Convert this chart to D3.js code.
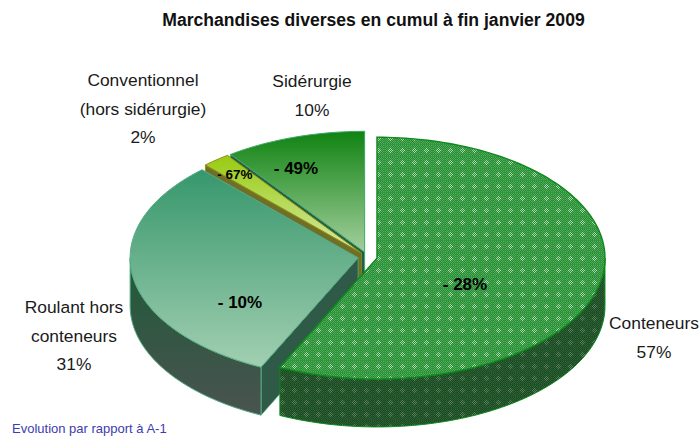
<!DOCTYPE html>
<html><head><meta charset="utf-8">
<style>html,body{margin:0;padding:0;background:#fff}svg{display:block}text{font-family:"Liberation Sans",Arial,sans-serif}</style>
<script src="https://cdn.jsdelivr.net/npm/d3@7/dist/d3.min.js"></script></head>
<body><svg id="c" width="700" height="438"></svg>
<script>
const categories = ["Conteneurs","Roulant hors conteneurs","Conventionnel (hors sidérurgie)","Sidérurgie"];
const shares = [57,31,2,10];
const evolutions = ["- 28%","- 10%","- 67%","- 49%"];
const labelLines = [["Conteneurs","57%"],["Roulant hors","conteneurs","31%"],["Conventionnel","(hors sidérurgie)","2%"],["Sidérurgie","10%"]];
const titleText = "Marchandises diverses en cumul à fin janvier 2009";
const noteText = "Evolution par rapport à A-1";

const svg = d3.select("#c");
const W=700,H=438, R=228, K=0.53, DEPTH=48, EXPLODE=9.6, BX=367.6, BY=257;
const pie = d3.pie().sort(null).value(d=>d)(shares);
const slices = pie.map((p,i)=>{
  const mid=(p.startAngle+p.endAngle)/2;
  return {...p,i,mid,cx:BX+EXPLODE*Math.sin(mid),cy:BY-EXPLODE*K*Math.cos(mid)};
});
const pt=(s,a,r=R,dz=0)=>[s.cx+r*Math.sin(a),s.cy-r*K*Math.cos(a)+dz];
const line=d3.line();
const arcPts=(s,a0,a1,dz=0)=>{const n=Math.max(2,Math.ceil(Math.abs(a1-a0)*40));return d3.range(n+1).map(j=>pt(s,a0+(a1-a0)*j/n,R,dz));};
const defs=svg.append("defs");
function grad(id,stops,y1=0,y2=1){const g=defs.append("linearGradient").attr("id",id).attr("x1",0).attr("y1",y1).attr("x2",0).attr("y2",y2);
  stops.forEach(([o,c])=>g.append("stop").attr("offset",o).attr("stop-color",c));}
grad("gRoul",[[0,"#36976c"],[1,"#a2cfb2"]]);
grad("gConv",[[0,"#98cb10"],[1,"#d6eaa8"]]);
grad("gSid",[[0,"#108312"],[1,"#a4cf9e"]]);
grad("gRoulSide",[[0,"#1f5a38"],[1,"#4a5350"]]);
function tile(id,a,b,light,band){
  const p=defs.append("pattern").attr("id",id).attr("patternUnits","userSpaceOnUse").attr("width",12).attr("height",12);
  d3.range(12).forEach(x=>d3.range(12).forEach(y=>{
    const d=Math.abs(x-6)+Math.abs(y-6), even=(x+y)%2===0;
    const fill=(x===0||y===0)?band:(even?(d<=3?light:a):b);
    p.append("rect").attr("x",x).attr("y",y).attr("width",1).attr("height",1).attr("fill",fill).attr("shape-rendering","crispEdges");
  }));
}
tile("pTop","#5aa95f","#1f8e30","#b6d6b6","#2f9a40");
tile("pSide","#33603a","#174a1e","#5f8164","#1f5526");

const style=[
 {top:"url(#pTop)",stroke:"#0d8a1c",rim:"url(#pSide)",wall:"#25512a"},
 {top:"url(#gRoul)",stroke:"#55ad85",rim:"url(#gRoulSide)",wall:"#2f5a48"},
 {top:"url(#gConv)",stroke:"#8f8f10",rim:"#7d7d10",wall:"#6f6f28"},
 {top:"url(#gSid)",stroke:"#3fa66a",rim:"#1c6a40",wall:"#1f5e48"}
];
function drawSlice(s){
  const st=style[s.i], a0=s.startAngle,a1=s.endAngle, g=svg.append("g");
  const apex=[s.cx,s.cy];
  if(s.i!==0){
    const e=pt(s,a0);
    g.append("path").attr("d",line([apex,e,[e[0],e[1]+DEPTH],[apex[0],apex[1]+DEPTH]])+"Z")
      .attr("fill",st.wall).attr("stroke",st.stroke).attr("stroke-width",.8);
  }
  const lo=Math.max(a0,Math.PI/2), hi=Math.min(a1,3*Math.PI/2);
  if(hi>lo){
    const top=arcPts(s,lo,hi), bot=arcPts(s,hi,lo,DEPTH);
    g.append("path").attr("d",line(top.concat(bot))+"Z").attr("fill",st.rim).attr("stroke",st.stroke).attr("stroke-width",1);
  }
  g.append("path").attr("d",line([apex].concat(arcPts(s,a0,a1)))+"Z")
    .attr("fill",st.top).attr("stroke",st.stroke).attr("stroke-width",s.i===0?1.4:1);
}
[3,2,1,0].forEach(i=>drawSlice(slices[i]));

function multi(lines,x,y,dy,size,fill){
  lines.forEach((t,k)=>svg.append("text").attr("x",x).attr("y",y+k*dy).attr("text-anchor","middle")
    .attr("font-size",size).attr("fill",fill).text(t));
}
svg.append("text").attr("x",373.5).attr("y",26).attr("text-anchor","middle").attr("font-size",17.6).attr("font-weight","bold").attr("fill","#111").text(titleText);
const labelPos=[[654,329,29],[74,313,28.5],[143,86,28.5],[312,87,29]];
labelLines.forEach((l,i)=>multi(l,labelPos[i][0],labelPos[i][1],labelPos[i][2],17.4,"#1a1a1a"));
const evoPos=[[465,290,17],[240,308,17],[235,179,13.5],[296,174,17]];
evolutions.forEach((t,i)=>svg.append("text").attr("x",evoPos[i][0]).attr("y",evoPos[i][1]).attr("text-anchor","middle")
  .attr("font-size",evoPos[i][2]).attr("font-weight","bold").attr("fill","#000").text(t));
svg.append("text").attr("x",12).attr("y",433).attr("font-size",13).attr("fill","#3c3cb0").text(noteText);
</script></body></html>
